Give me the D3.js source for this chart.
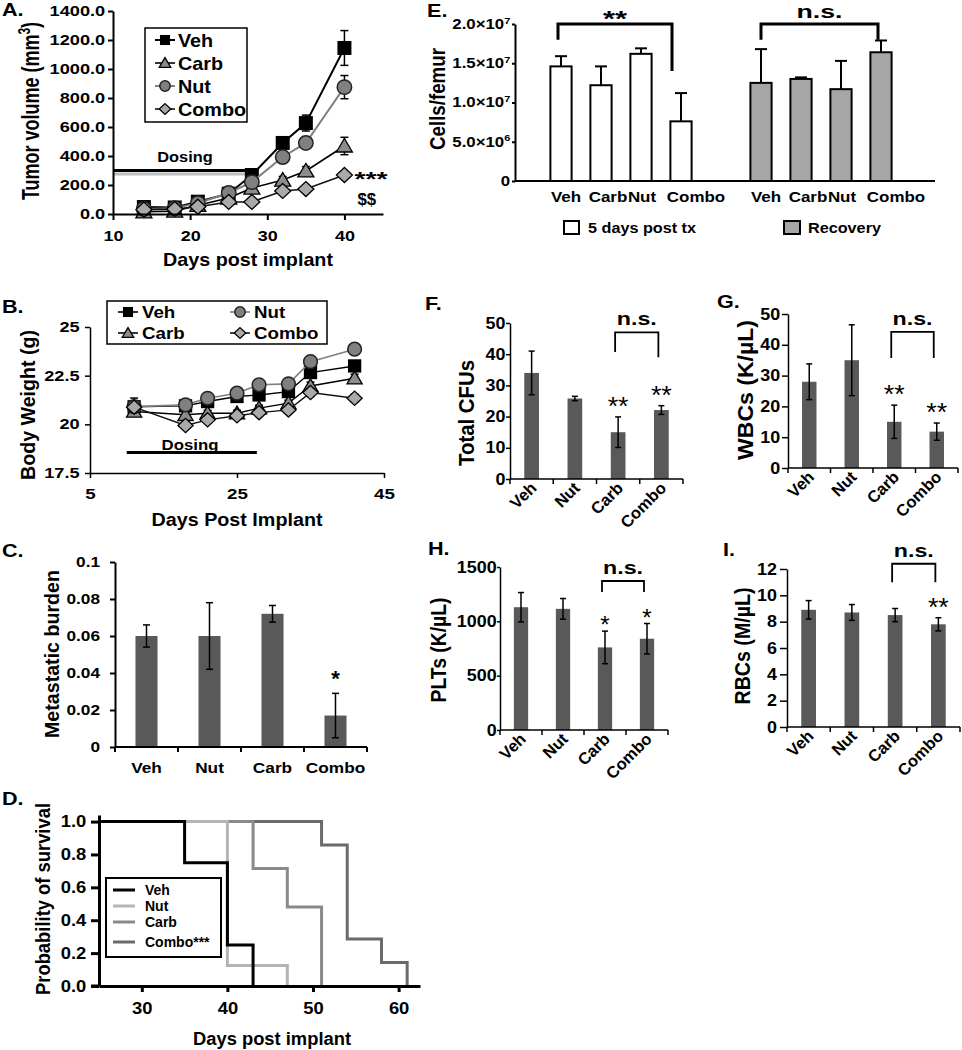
<!DOCTYPE html>
<html><head><meta charset="utf-8">
<script src="https://cdn.jsdelivr.net/npm/d3@7"></script>
<style>
body{margin:0;background:#fff;}
svg{display:block;font-family:"Liberation Sans",Arial,Helvetica,sans-serif;}
</style></head><body>
<svg id="c" width="962" height="1050"></svg>
<script>
// ================= DATA =================
// A. Tumor volume
const tumorDays = [14,18,21,25,28,32,35,40];
const tumorVeh = [48,45,85,140,269,490,627,1145];
const tumorVehErr = [8,6,10,15,25,40,55,120];
const tumorCarb = [15,20,60,110,179,234,297,469];
const tumorCarbErr = [4,4,8,12,20,25,30,60];
const tumorNut = [35,40,75,145,220,393,490,875];
const tumorNutErr = [6,6,10,15,20,30,40,80];
const tumorCombo = [30,35,50,83,83,159,172,269];
const tumorComboErr = [4,4,6,8,10,15,18,20];
const tumorYTicks = [0,200,400,600,800,1000,1200,1400];
const tumorXTicks = [10,20,30,40];
const tumorDosing = [10,28.2,300];
const tumorLegend = ["Veh","Carb","Nut","Combo"];

// B. Body weight
const bwDays = [11,18,21,25,28,32,35,41];
const bwVeh = [20.9,20.95,21.17,21.43,21.51,21.68,22.66,23.0];
const bwVehErr = [0.45,0.15,0.15,0.15,0.15,0.15,0.2,0.2];
const bwNut = [20.91,21.0,21.34,21.6,22.03,22.08,23.22,23.86];
const bwNutErr = [0.15,0.15,0.15,0.15,0.15,0.15,0.2,0.2];
const bwCarb = [20.66,20.49,20.57,20.57,20.83,21.09,21.97,22.37];
const bwCarbErr = [0.15,0.15,0.15,0.15,0.15,0.15,0.2,0.2];
const bwCombo = [20.88,19.94,20.23,20.44,20.6,20.74,21.63,21.34];
const bwComboErr = [0.15,0.15,0.15,0.15,0.15,0.15,0.2,0.2];
const bwYTicks = [17.5,20,22.5,25];
const bwXTicks = [5,25,45];
const bwDosing = [10,27.7,18.55];

// C. Metastatic burden
const metCats = ["Veh","Nut","Carb","Combo"];
const metVals = [0.060,0.060,0.072,0.017];
const metErr = [0.006,0.018,0.0045,0.012];
const metSig = ["","","","*"];
const metTicks = [0,0.02,0.04,0.06,0.08,0.1];

// D. Survival
const survNames = ["Veh","Nut","Carb","Combo***"];
const survVehT = [25,35,40,43];       const survVehP = [1,0.75,0.25,0];
const survNutT = [25,40,47];          const survNutP = [1,0.125,0];
const survCarbT = [25,43,47,51];      const survCarbP = [1,0.714,0.48,0];
const survComboT = [25,51,54,58,61];  const survComboP = [1,0.857,0.286,0.143,0];
const survYTicks = [0,0.2,0.4,0.6,0.8,1.0];
const survXTicks = [30,40,50,60];

// E. Cells per femur
const femurCats = ["Veh","Carb","Nut","Combo"];
const femurGroups = ["5 days post tx","Recovery"];
const femurDay5 = [14.6e6,12.2e6,16.2e6,7.6e6];
const femurDay5Err = [1.3e6,2.4e6,0.7e6,3.6e6];
const femurRecov = [12.5e6,13.0e6,11.7e6,16.4e6];
const femurRecovErr = [4.3e6,0.2e6,3.6e6,1.5e6];
const femurTicks = [0,5e6,1e7,1.5e7,2e7];
const femurTickMant = ["0","5.0×10","1.0×10","1.5×10","2.0×10"];
const femurTickExp = ["","6","7","7","7"];
const femurSigLabels = ["**","n.s."];
const femurSigTop = [2.0e7,2.0e7];
const femurSigLeft = [1.8e7,1.8e7];
const femurSigRight = [1.4e7,1.8e7];

// F-I. Blood counts
const bloodCats = ["Veh","Nut","Carb","Combo"];
const cfuVals = [34,25.8,15,22.1];   const cfuErr = [7,0.7,4.9,1.4];
const cfuSig = ["","","**","**"];    const cfuTicks = [0,10,20,30,40,50];
const cfuBracket = [47,40.7,39];
const wbcVals = [28,35,15,11.8];     const wbcErr = [5.8,11.5,5.4,2.8];
const wbcSig = ["","","**","**"];    const wbcTicks = [0,10,20,30,40,50];
const wbcBracket = [44.2,35.7,35.7];
const pltVals = [1130,1115,760,840]; const pltErr = [135,95,150,140];
const pltSig = ["","","*","*"];      const pltTicks = [0,500,1000,1500];
const pltBracket = [1371,1270,1270];
const rbcVals = [8.9,8.7,8.5,7.8];   const rbcErr = [0.7,0.6,0.5,0.5];
const rbcSig = ["","","","**"];      const rbcTicks = [0,2,4,6,8,10,12];
const rbcBracket = [12.4,11.0,11.0];

// ================= DRAWING =================
const FONT = '"Liberation Sans", Arial, Helvetica, sans-serif';
const svg = d3.select("#c");

function T(g, x, y, s, o = {}) {
  let tr = `translate(${x},${y})`;
  if (o.sx && o.sx !== 1) tr += ` scale(${o.sx},1)`;
  if (o.rot) tr += ` rotate(${o.rot})`;
  const t = g.append("text").attr("transform", tr)
    .attr("text-anchor", o.anchor || "start")
    .attr("font-family", FONT)
    .attr("font-size", o.size || 16)
    .attr("font-weight", o.weight || "bold")
    .attr("fill", o.fill || "#000")
    .text(s);
  if (o.len) t.attr("textLength", o.len).attr("lengthAdjust", "spacingAndGlyphs");
  if (o.dy) t.attr("dy", o.dy);
  return t;
}
function styleAxis(g, o) {
  g.attr("font-family", FONT).attr("font-size", o.size).attr("font-weight", "bold");
  g.select(".domain").attr("stroke", "#000").attr("stroke-width", o.w || 2);
  g.selectAll(".tick line").attr("stroke", "#000").attr("stroke-width", o.w || 2);
  g.selectAll(".tick text").attr("fill", "#000");
  if (o.sx) g.selectAll(".tick text").attr("transform", `scale(${o.sx},1)`);
}
function marker(g, type, x, y, k = 1) {
  if (type === "square") return g.append("rect").attr("x", x - 7*k).attr("y", y - 7*k).attr("width", 14*k).attr("height", 14*k).attr("fill", "#000");
  if (type === "circle") return g.append("circle").attr("cx", x).attr("cy", y).attr("r", 7.2*k).attr("fill", "#808080").attr("stroke", "#222").attr("stroke-width", 1.5);
  if (type === "triangle") return g.append("path").attr("d", `M${x},${y-7.5*k}L${x+8*k},${y+6*k}L${x-8*k},${y+6*k}Z`).attr("fill", "#8c8c8c").attr("stroke", "#000").attr("stroke-width", 1.3);
  if (type === "diamond") return g.append("path").attr("d", `M${x},${y-7.5*k}L${x+8*k},${y}L${x},${y+7.5*k}L${x-8*k},${y}Z`).attr("fill", "#a9a9a9").attr("stroke", "#000").attr("stroke-width", 1.3);
}
function errBar(g, x, y1, y2, cap, w) {
  g.append("line").attr("x1", x).attr("x2", x).attr("y1", y1).attr("y2", y2).attr("stroke", "#000").attr("stroke-width", w);
  [y1, y2].forEach(yy => g.append("line").attr("x1", x - cap/2).attr("x2", x + cap/2).attr("y1", yy).attr("y2", yy).attr("stroke", "#000").attr("stroke-width", w));
}

const styles = {
  Veh: {marker: "square", line: "#000", lw: 2},
  Carb: {marker: "triangle", line: "#000", lw: 1.6},
  Nut: {marker: "circle", line: "#808080", lw: 2},
  Combo: {marker: "diamond", line: "#111", lw: 1.6}
};

// ---------- Panel A ----------
{
  const g = svg.append("g");
  const x = d3.scaleLinear().domain([10,45]).range([113,383]);
  const y = d3.scaleLinear().domain([0,1400]).range([214,11]);
  // dosing bar
  g.append("line").attr("x1", x(tumorDosing[0])).attr("x2", x(tumorDosing[1])).attr("y1", y(tumorDosing[2]) + 3.5).attr("y2", y(tumorDosing[2]) + 3.5).attr("stroke", "#bdbdbd").attr("stroke-width", 3);
  g.append("line").attr("x1", x(tumorDosing[0])).attr("x2", x(tumorDosing[1])).attr("y1", y(tumorDosing[2])).attr("y2", y(tumorDosing[2])).attr("stroke", "#000").attr("stroke-width", 3);
  T(g, 185, 162, "Dosing", {size: 14, anchor: "middle", sx: 1.17});

  const series = [
    ["Veh", tumorVeh, tumorVehErr], ["Carb", tumorCarb, tumorCarbErr],
    ["Nut", tumorNut, tumorNutErr], ["Combo", tumorCombo, tumorComboErr]];
  series.forEach(([name, vals, err]) => {
    const st = styles[name];
    const line = d3.line().x((d, i) => x(tumorDays[i])).y(d => y(d));
    g.append("path").attr("d", line(vals)).attr("fill", "none").attr("stroke", st.line).attr("stroke-width", st.lw);
    vals.forEach((v, i) => errBar(g, x(tumorDays[i]), y(v - err[i]), y(v + err[i]), 8, 1.5));
    vals.forEach((v, i) => marker(g, st.marker, x(tumorDays[i]), y(v)));
  });
  const lx = x(tumorDays[7]), ly = y(tumorCombo[7]);
  T(g, lx + 10, ly + 11, "***", {size: 20, len: 33, weight: "bold"});
  T(g, lx + 13, ly + 30, "$$", {size: 16, sx: 1.05});

  const ya = g.append("g").attr("transform", `translate(${x(10)},0)`)
    .call(d3.axisLeft(y).tickValues(tumorYTicks).tickFormat(d3.format(".1f")).tickSize(5).tickPadding(1).tickSizeOuter(0));
  styleAxis(ya, {size: 14, sx: 1.3, w: 2});
  const xa = g.append("g").attr("transform", `translate(0,${y(0)})`)
    .call(d3.axisBottom(x).tickValues(tumorXTicks).tickSize(6).tickPadding(10).tickSizeOuter(0));
  styleAxis(xa, {size: 15, sx: 1.2, w: 2});

  // legend
  g.append("rect").attr("x", 145).attr("y", 28).attr("width", 102).attr("height", 94).attr("fill", "#fff").attr("stroke", "#000").attr("stroke-width", 1.5);
  tumorLegend.forEach((name, i) => {
    const yy = 40 + i * 23;
    const st = styles[name];
    g.append("line").attr("x1", 155).attr("x2", 175).attr("y1", yy).attr("y2", yy).attr("stroke", st.line).attr("stroke-width", st.lw);
    marker(g, st.marker, 165, yy, 0.72);
    T(g, 178, yy + 6.5, name, {size: 18, sx: 1.1});
  });
  const yt = T(g, 31, 111, "Tumor volume (mm", {size: 18, rot: -90, anchor: "middle", dy: "0.35em", sx: 1.3});
  yt.append("tspan").attr("font-size", 12).attr("dy", -7).text("3");
  yt.append("tspan").attr("dy", 7).text(")");
  T(g, 248, 266, "Days post implant", {size: 19, anchor: "middle", len: 170});
  T(g, 2, 16, "A.", {size: 18, sx: 1.2});
}

// ---------- Panel B ----------
{
  const g = svg.append("g");
  const x = d3.scaleLinear().domain([5,45]).range([90,384]);
  const y = d3.scaleLinear().domain([17.5,25]).range([473,327]);
  g.append("line").attr("x1", x(bwDosing[0])).attr("x2", x(bwDosing[1])).attr("y1", y(bwDosing[2])).attr("y2", y(bwDosing[2])).attr("stroke", "#000").attr("stroke-width", 3);
  T(g, 190, 450, "Dosing", {size: 15, anchor: "middle", sx: 1.12});
  const series = [
    ["Veh", bwVeh, bwVehErr], ["Carb", bwCarb, bwCarbErr],
    ["Nut", bwNut, bwNutErr], ["Combo", bwCombo, bwComboErr]];
  series.forEach(([name, vals, err]) => {
    const st = styles[name];
    const line = d3.line().x((d, i) => x(bwDays[i])).y(d => y(d));
    g.append("path").attr("d", line(vals)).attr("fill", "none").attr("stroke", st.line).attr("stroke-width", name === "Nut" ? 1.6 : 1.4);
    vals.forEach((v, i) => errBar(g, x(bwDays[i]), y(v - err[i]), y(v + err[i]), 8, 1.5));
    vals.forEach((v, i) => marker(g, st.marker, x(bwDays[i]), y(v), 0.95));
  });
  const ya = g.append("g").attr("transform", `translate(${x(5)},0)`)
    .call(d3.axisLeft(y).tickValues(bwYTicks).tickFormat(d => d).tickSize(5).tickPadding(3).tickSizeOuter(0));
  styleAxis(ya, {size: 14, sx: 1.3, w: 1.5});
  const xa = g.append("g").attr("transform", `translate(0,${y(17.5)})`)
    .call(d3.axisBottom(x).tickValues(bwXTicks).tickSize(5).tickPadding(10).tickSizeOuter(0));
  styleAxis(xa, {size: 15, sx: 1.25, w: 1.5});

  g.append("rect").attr("x", 107).attr("y", 301).attr("width", 220).attr("height", 43).attr("fill", "#fff").attr("stroke", "#000").attr("stroke-width", 1.5);
  const leg = [["Veh", 128, 312], ["Nut", 240, 312], ["Carb", 128, 333], ["Combo", 240, 333]];
  leg.forEach(([name, cx, cy]) => {
    const st = styles[name];
    g.append("line").attr("x1", cx - 10).attr("x2", cx + 10).attr("y1", cy).attr("y2", cy).attr("stroke", st.line).attr("stroke-width", 1.6);
    marker(g, st.marker, cx, cy, 0.72);
    T(g, cx + 14, cy + 6, name, {size: 17, sx: 1.1});
  });
  T(g, 28, 405, "Body Weight (g)", {size: 18, rot: -90, anchor: "middle", dy: "0.35em", len: 150, sx: 1.15});
  T(g, 237, 526, "Days Post Implant", {size: 18, anchor: "middle", len: 171});
  T(g, 2, 313, "B.", {size: 18, sx: 1.2});
}

// ---------- Panel C ----------
{
  const g = svg.append("g");
  const x = d3.scaleBand().domain(metCats).range([115,367]).paddingInner(0.65).paddingOuter(0.325);
  const y = d3.scaleLinear().domain([0,0.1]).range([747,562]);
  g.selectAll(null).data(metCats).join("rect")
    .attr("x", c => x(c)).attr("width", x.bandwidth())
    .attr("y", (c, i) => y(metVals[i])).attr("height", (c, i) => y(0) - y(metVals[i]))
    .attr("fill", "#595959");
  metCats.forEach((c, i) => {
    const cx = x(c) + x.bandwidth()/2;
    errBar(g, cx, y(metVals[i] - metErr[i]), y(metVals[i] + metErr[i]), 7, 1.5);
    if (metSig[i]) T(g, cx, y(metVals[i] + metErr[i]) - 7, metSig[i], {size: 22, anchor: "middle"});
    T(g, cx, 773, c, {size: 15, anchor: "middle", sx: 1.15});
  });
  const ya = g.append("g").attr("transform", "translate(115,0)")
    .call(d3.axisLeft(y).tickValues(metTicks).tickFormat(d => String(+d.toFixed(2))).tickSize(5).tickPadding(8).tickSizeOuter(0));
  styleAxis(ya, {size: 15, sx: 1.15, w: 2});
  g.append("line").attr("x1", 115).attr("x2", 367).attr("y1", y(0)).attr("y2", y(0)).attr("stroke", "#000").attr("stroke-width", 2);
  d3.range(metCats.length + 1).forEach(i => {
    const bx = 115 + i * x.step();
    g.append("line").attr("x1", bx).attr("x2", bx).attr("y1", y(0)).attr("y2", y(0) + 5).attr("stroke", "#000").attr("stroke-width", 2);
  });
  T(g, 52, 654, "Metastatic burden", {size: 17, rot: -90, anchor: "middle", dy: "0.35em", len: 168, sx: 1.15});
  T(g, 2, 557, "C.", {size: 18, sx: 1.2});
}

// ---------- Panel D ----------
{
  const g = svg.append("g");
  const x = d3.scaleLinear().domain([25,62.5]).range([99,420]);
  const y = d3.scaleLinear().domain([0,1.04]).range([986,815]);
  const curves = [
    [survComboT, survComboP, "#6a6a6a"], [survCarbT, survCarbP, "#8a8a8a"],
    [survNutT, survNutP, "#b4b4b4"], [survVehT, survVehP, "#000"]];
  const line = d3.line().curve(d3.curveStepAfter);
  curves.forEach(([t, p, col]) => {
    g.append("path").attr("d", line(t.map((d, i) => [x(d), y(p[i])])))
      .attr("fill", "none").attr("stroke", col).attr("stroke-width", 3);
  });
  const ya = g.append("g").attr("transform", `translate(${x(25)},0)`)
    .call(d3.axisLeft(y).tickValues(survYTicks).tickFormat(d3.format(".1f")).tickSize(8).tickPadding(3).tickSizeOuter(0));
  styleAxis(ya, {size: 16, sx: 1.15, w: 3});
  const xa = g.append("g").attr("transform", `translate(0,${y(0)})`)
    .call(d3.axisBottom(x).tickValues(survXTicks).tickSize(6).tickPadding(11).tickSizeOuter(0));
  styleAxis(xa, {size: 16, sx: 1.15, w: 3});
  g.append("line").attr("x1", 91).attr("x2", x(25)).attr("y1", y(0)).attr("y2", y(0)).attr("stroke", "#000").attr("stroke-width", 3);

  g.append("rect").attr("x", 106).attr("y", 878).attr("width", 115).attr("height", 79).attr("fill", "#fff").attr("stroke", "#000").attr("stroke-width", 2);
  const rows = [890, 906, 922, 942];
  survNames.forEach((n, i) => {
    g.append("line").attr("x1", 113).attr("x2", 135).attr("y1", rows[i]).attr("y2", rows[i]).attr("stroke", curves[3 - i][2]).attr("stroke-width", 3);
    T(g, 145, rows[i] + 5, n, {size: 14});
  });
  T(g, 43, 899, "Probability of survival", {size: 18, rot: -90, anchor: "middle", dy: "0.35em", len: 192, sx: 1.15});
  T(g, 272, 1045, "Days post implant", {size: 18, anchor: "middle", len: 158});
  T(g, 2, 805, "D.", {size: 18, sx: 1.2});
}

// ---------- Panel E ----------
{
  const g = svg.append("g");
  const slots = femurGroups.flatMap((gr, gi) => femurCats.map(c => gi + c));
  slots.splice(4, 0, "gap");
  const x = d3.scaleBand().domain(slots).range([541,901]).paddingInner(0.47).paddingOuter(0.235);
  const y = d3.scaleLinear().domain([0,2e7]).range([181,24]);
  const labelShift = [5,7,1,15];
  [[femurDay5, femurDay5Err, "#fff"], [femurRecov, femurRecovErr, "#a6a6a6"]].forEach(([vals, err, fill], gi) => {
    femurCats.forEach((c, i) => {
      const key = gi + c;
      const cx = x(key) + x.bandwidth()/2;
      g.append("line").attr("x1", cx).attr("x2", cx).attr("y1", y(vals[i])).attr("y2", y(vals[i] + err[i])).attr("stroke", "#000").attr("stroke-width", 2);
      g.append("line").attr("x1", cx - 6).attr("x2", cx + 6).attr("y1", y(vals[i] + err[i])).attr("y2", y(vals[i] + err[i])).attr("stroke", "#000").attr("stroke-width", 2);
      g.append("rect").attr("x", x(key)).attr("width", x.bandwidth()).attr("y", y(vals[i])).attr("height", y(0) - y(vals[i]))
        .attr("fill", fill).attr("stroke", "#000").attr("stroke-width", 2);
      T(g, cx + labelShift[i], 202, c, {size: 15, anchor: "middle", sx: 1.13});
    });
    const x1 = x(gi + femurCats[0]) + x.bandwidth()/2 - (gi ? 0 : 3);
    const x2 = x(gi + femurCats[3]) + x.bandwidth()/2 - (gi ? 3 : 9);
    g.append("path").attr("d", `M${x1},${y(femurSigLeft[gi])}V${y(femurSigTop[gi])}H${x2}V${y(femurSigRight[gi])}`)
      .attr("fill", "none").attr("stroke", "#000").attr("stroke-width", 3);
    if (gi === 0) T(g, (x1 + x2)/2, y(femurSigTop[gi]) + 2, femurSigLabels[gi], {size: 22, anchor: "middle", len: 24});
    else T(g, (x1 + x2)/2, y(femurSigTop[gi]) - 6, femurSigLabels[gi], {size: 18, anchor: "middle", len: 46});
  });
  const ya = g.append("g").attr("transform", "translate(515,0)")
    .call(d3.axisLeft(y).tickValues(femurTicks).tickFormat("").tickSize(3).tickPadding(1).tickSizeOuter(0));
  styleAxis(ya, {size: 14, sx: 1.2, w: 2});
  ya.selectAll(".tick text").each(function(d, i) {
    const t = d3.select(this);
    t.text(null);
    t.append("tspan").text(femurTickMant[i]);
    if (femurTickExp[i]) t.append("tspan").attr("font-size", "0.65em").attr("dy", "-0.6em").text(femurTickExp[i]);
  });
  g.append("line").attr("x1", 515).attr("x2", 935).attr("y1", y(0)).attr("y2", y(0)).attr("stroke", "#000").attr("stroke-width", 2);
  g.append("rect").attr("x", 564).attr("y", 221).attr("width", 15).attr("height", 13).attr("fill", "#fff").attr("stroke", "#000").attr("stroke-width", 2);
  T(g, 588, 233, femurGroups[0], {size: 15, sx: 1.08});
  g.append("rect").attr("x", 784).attr("y", 221).attr("width", 16).attr("height", 13).attr("fill", "#a6a6a6").attr("stroke", "#000").attr("stroke-width", 2);
  T(g, 808, 233, femurGroups[1], {size: 15, sx: 1.08});
  T(g, 437, 99, "Cells/femur", {size: 18, rot: -90, anchor: "middle", dy: "0.35em", len: 102, sx: 1.2});
  T(g, 427, 17, "E.", {size: 18, sx: 1.2});
}

// ---------- Panels F-I ----------
function bloodPanel(L, vals, err, sig, ticks, brk, title, letter) {
  const g = svg.append("g");
  const x = d3.scaleBand().domain(bloodCats).range([L.x0, L.x1]).paddingInner(0.66).paddingOuter(0.33);
  const y = d3.scaleLinear().domain([0, ticks[ticks.length - 1]]).range([L.yb, L.yt]);
  g.selectAll(null).data(bloodCats).join("rect")
    .attr("x", c => x(c)).attr("width", x.bandwidth())
    .attr("y", (c, i) => y(vals[i])).attr("height", (c, i) => y(0) - y(vals[i]))
    .attr("fill", "#595959");
  bloodCats.forEach((c, i) => {
    const cx = x(c) + x.bandwidth()/2;
    errBar(g, cx, y(vals[i] - err[i]), y(vals[i] + err[i]), 6, 1.5);
    if (sig[i]) {
      const top = y(vals[i] + err[i]);
      if (sig[i] === "**") T(g, cx, top - 2, "**", {size: 26, anchor: "middle", len: 21, weight: "normal"});
      else T(g, cx, top + 2, "*", {size: 24, anchor: "middle", weight: "normal"});
    }
    T(g, cx + 6, y(0) + 10, c, {size: 16.5, anchor: "end", rot: -45});
  });
  const ya = g.append("g").attr("transform", `translate(${L.x0},0)`)
    .call(d3.axisLeft(y).tickValues(ticks).tickFormat(d3.format("d")).tickSize(L.ts).tickPadding(L.tp).tickSizeOuter(0));
  styleAxis(ya, {size: 16, sx: 1.12, w: 1.5});
  g.append("line").attr("x1", L.x0).attr("x2", L.x1).attr("y1", y(0)).attr("y2", y(0)).attr("stroke", "#000").attr("stroke-width", 1.5);
  d3.range(bloodCats.length + 1).forEach(i => {
    const bx = L.x0 + i * x.step();
    g.append("line").attr("x1", bx).attr("x2", bx).attr("y1", y(0)).attr("y2", y(0) + 5).attr("stroke", "#000").attr("stroke-width", 1.5);
  });
  const b1 = x(bloodCats[2]) + x.bandwidth()/2 - 3, b2 = x(bloodCats[3]) + x.bandwidth()/2 - 3;
  g.append("path").attr("d", `M${b1},${y(brk[1])}V${y(brk[0])}H${b2}V${y(brk[2])}`)
    .attr("fill", "none").attr("stroke", "#000").attr("stroke-width", 1.8);
  T(g, (b1 + b2)/2, y(brk[0]) - 7, "n.s.", {size: 18, anchor: "middle", len: 40});
  T(g, L.tx, L.ty, title, {size: 19, rot: -90, anchor: "middle", dy: "0.35em", len: L.tl, sx: 1.2});
  T(g, L.lx, L.ly, letter, {size: 18, sx: 1.2});
}
bloodPanel({x0: 510, x1: 683, yb: 479, yt: 323, ts: 4, tp: 0, tx: 466, ty: 413, tl: 106, lx: 425, ly: 310},
  cfuVals, cfuErr, cfuSig, cfuTicks, cfuBracket, "Total CFUs", "F.");
bloodPanel({x0: 788, x1: 958, yb: 468, yt: 314, ts: 6, tp: 1, tx: 745, ty: 390, tl: 140, lx: 717, ly: 308},
  wbcVals, wbcErr, wbcSig, wbcTicks, wbcBracket, "WBCs (K/µL)", "G.");
bloodPanel({x0: 500, x1: 668, yb: 730, yt: 567, ts: 3, tp: 0, tx: 438, ty: 650, tl: 105, lx: 428, ly: 555},
  pltVals, pltErr, pltSig, pltTicks, pltBracket, "PLTs (K/µL)", "H.");
bloodPanel({x0: 787, x1: 960, yb: 727, yt: 569, ts: 7, tp: 2, tx: 742, ty: 646, tl: 117, lx: 723, ly: 556},
  rbcVals, rbcErr, rbcSig, rbcTicks, rbcBracket, "RBCs (M/µL)", "I.");
</script>
</body></html>
